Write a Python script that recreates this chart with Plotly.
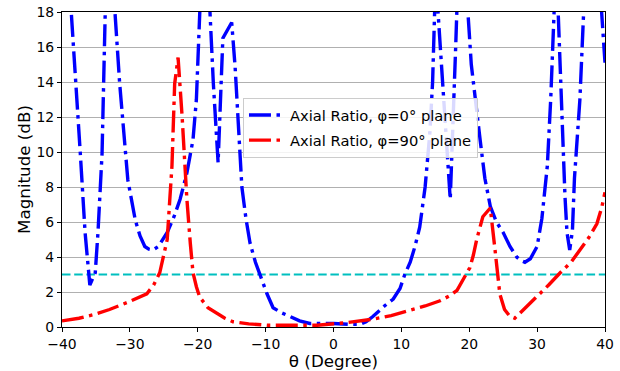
import plotly.graph_objects as go

theta_blue = [-39.3, -38.6, -37.3, -36.6, -35.9, -35.1, -34.7, -34.1, -33.7, -33.4,
              -32.5, -32.2, -31.5, -30.3, -29.2, -28.5, -27.8, -27.2, -26.6, -25.8,
              -24.5, -23.5, -22.6, -21.6, -20.7, -20.2, -19.7, -19.4, -18.5, -18.2,
              -17.7, -17.0, -16.3, -15.0, -14.5, -14.0, -13.5, -12.9, -12.3, -11.5,
              -10.8, -9.8, -8.9, -7.6, -6.4, -5.0, -3.5, 0.0, 2.5, 3.9,
              4.8, 5.8, 7.5, 8.8, 9.8, 10.5, 11.3, 12.0, 12.7, 13.5,
              14.2, 14.6, 14.9, 15.15, 15.4, 16.7, 17.2, 18.0, 18.2, 18.5,
              19.5, 19.8, 20.3, 21.0, 21.6, 22.3, 23.1, 24.0, 25.0, 26.0,
              27.0, 27.6, 28.2, 29.0, 30.0, 30.7, 31.5, 32.0, 32.4, 32.7,
              32.9, 33.1, 33.6, 34.1, 34.4, 34.8, 35.2, 35.5, 36.3, 37.0,
              37.3, 39.2, 39.5, 40.0]
ar_phi0 = [22.0, 18.0, 9.9, 5.4, 2.4, 3.1, 5.4, 9.9, 16.8, 22.0,
           22.0, 18.0, 13.9, 8.4, 6.1, 5.2, 4.6, 4.45, 4.4, 4.6,
           5.4, 6.3, 7.3, 8.8, 10.7, 13.0, 18.0, 22.0, 22.0, 18.0,
           13.9, 9.4, 16.5, 17.4, 14.9, 11.2, 8.0, 6.2, 4.8, 3.7,
           2.9, 1.9, 1.1, 0.8, 0.6, 0.35, 0.2, 0.2, 0.15, 0.15,
           0.3, 0.6, 1.2, 1.6, 2.2, 3.0, 3.7, 4.6, 5.7, 8.0,
           11.1, 14.0, 18.0, 19.5, 18.0, 9.9, 7.3, 16.0, 18.0, 22.0,
           22.0, 18.0, 15.0, 12.5, 10.7, 8.5, 6.9, 6.0, 5.4, 4.6,
           4.0, 3.8, 3.7, 3.9, 4.6, 6.2, 9.2, 13.0, 18.0, 22.0,
           22.0, 18.0, 12.0, 7.5, 5.4, 4.4, 5.5, 8.5, 13.0, 18.0,
           22.0, 22.0, 18.0, 15.1]

theta_red = [-40.0, -37.5, -35.4, -33.0, -30.4, -28.8, -27.5, -26.5, -25.6, -24.5,
             -23.8, -23.4, -22.9, -22.3, -21.6, -21.1, -20.7, -20.2, -19.7, -18.5,
             -17.2, -16.0, -14.8, -12.5, -9.8, -2.4, 2.0, 5.8, 8.5, 10.8,
             13.5, 15.7, 17.2, 18.2, 19.3, 20.1, 20.6, 21.1, 22.0, 22.6,
             23.1, 23.8, 24.5, 25.2, 26.0, 26.7, 28.3, 30.0, 31.7, 33.4,
             35.0, 36.3, 37.6, 38.8, 39.5, 40.0]
ar_phi90 = [0.35, 0.5, 0.7, 1.0, 1.4, 1.7, 1.9, 2.4, 3.1, 5.0,
            9.2, 13.9, 15.4, 12.0, 7.3, 4.8, 3.1, 2.3, 1.7, 1.1,
            0.8, 0.5, 0.3, 0.18, 0.1, 0.1, 0.25, 0.45, 0.65, 0.9,
            1.2, 1.5, 1.8, 2.1, 2.9, 3.4, 4.1, 5.0, 6.3, 6.6,
            6.8, 4.4, 1.9, 1.0, 0.6, 0.5, 1.1, 1.7, 2.4, 3.1,
            3.7, 4.4, 5.1, 5.9, 6.8, 7.7]

threshold_x = [-40, 40]
threshold_y = [3, 3]

x_ticks = [-40, -30, -20, -10, 0, 10, 20, 30, 40]
y_ticks = [0, 2, 4, 6, 8, 10, 12, 14, 16, 18]

dashdot = "22px,5.5px,3.5px,5.5px"

fig = go.Figure()
fig.add_trace(go.Scatter(x=threshold_x, y=threshold_y, mode="lines",
                         line=dict(color="#00bfbf", width=2.2, dash="8.5px,3.7px"),
                         showlegend=False, hoverinfo="skip"))
fig.add_trace(go.Scatter(x=theta_blue, y=ar_phi0, mode="lines",
                         name="Axial Ratio, φ=0° plane", legendgroup="a",
                         line=dict(color="#0000ff", width=3.4, dash=dashdot)))
fig.add_trace(go.Scatter(x=theta_red, y=ar_phi90, mode="lines",
                         name="Axial Ratio, φ=90° plane", legendgroup="b",
                         line=dict(color="#ff0000", width=3.4, dash=dashdot)))

fig.update_layout(
    width=620, height=371,
    margin=dict(l=62, r=15, t=12, b=44),
    paper_bgcolor="white", plot_bgcolor="white",
    font=dict(family="DejaVu Sans", size=14, color="black"),
    legend=dict(x=0.3333, y=0.727, xanchor="left", yanchor="top",
                bgcolor="rgba(255,255,255,0.85)", bordercolor="#cccccc", borderwidth=1,
                font=dict(size=14.7), tracegroupgap=3, itemwidth=36),
)
fig.update_xaxes(range=[-40, 40], tickvals=x_ticks, showgrid=False, zeroline=False,
                 showline=True, linecolor="black", linewidth=1.1, mirror=True,
                 ticks="outside", ticklen=4, tickcolor="black", automargin=False,
                 tickfont=dict(size=13.9),
                 title=dict(text="θ (Degree)", font=dict(size=16.7), standoff=5))
fig.update_yaxes(range=[0, 18], tickvals=y_ticks, showgrid=True, gridcolor="#b0b0b0",
                 gridwidth=1, zeroline=False,
                 showline=True, linecolor="black", linewidth=1.1, mirror=True,
                 ticks="outside", ticklen=4, tickcolor="black", automargin=False,
                 tickfont=dict(size=13.9),
                 title=dict(text="Magnitude (dB)", font=dict(size=16.7), standoff=1))

fig.write_html("out.html")
